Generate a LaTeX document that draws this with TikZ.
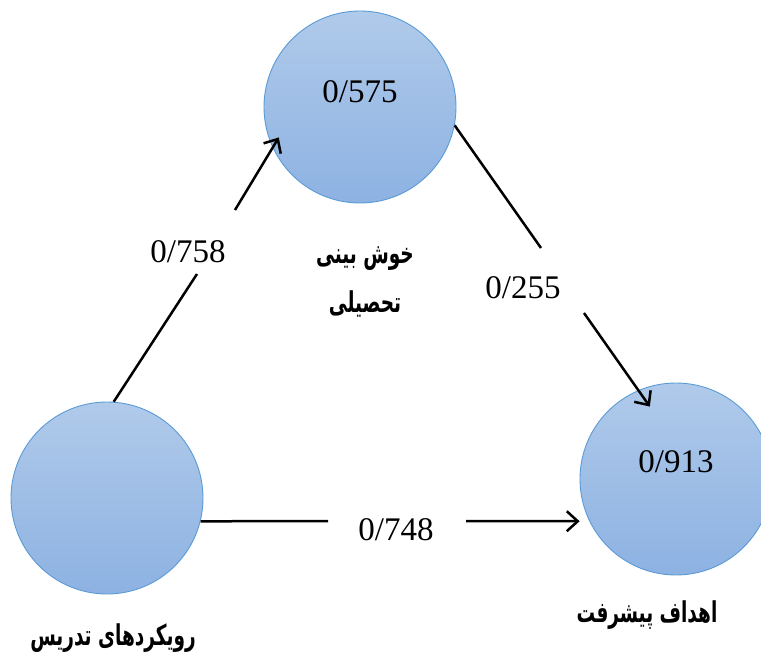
\documentclass[tikz,border=0pt]{standalone}
\usepackage{fontspec}
\setmainfont{Liberation Serif}
\newfontfamily\arabicfont[Script=Arabic]{DejaVu Sans}
\TeXXeTstate=1
\usetikzlibrary{arrows.meta}
\definecolor{ctop}{RGB}{176,202,234}
\definecolor{cbot}{RGB}{141,178,226}
\definecolor{cedge}{RGB}{91,155,213}
\newcommand{\tallfa}[1]{\scalebox{1}[1.55]{\beginR #1\endR}}
\tikzset{
  bubble/.style={circle, minimum size=192pt, inner sep=0pt, top color=ctop, bottom color=cbot, draw=cedge, line width=0.9pt},
  num/.style={font=\fontsize{33}{36}\selectfont, inner sep=0pt},
  fa/.style={font=\arabicfont\bfseries\fontsize{18.5}{22}\selectfont, inner sep=0pt},
  conn/.style={line width=2.5pt, black},
  arr/.style={conn, -{Straight Barb[length=11pt,width=20pt,line width=2.5pt]}}
}
\begin{document}
\begin{tikzpicture}[x=1pt,y=-1pt]
\useasboundingbox (0,0) rectangle (761,652);
\fill[white] (0,0) rectangle (761,652);
\node[bubble] (T) at (360,107) {};
\node[bubble] (L) at (107,498) {};
\node[bubble] (R) at (676,479) {};
\node[num] (vT) at (360,92) {0/575};
\node[num] (vR) at (676,462) {0/913};
\node[num] (e1) at (188,252) {0/758};
\node[num] (e2) at (523,288) {0/255};
\node[num] (e3) at (396,530) {0/748};
\node[fa] (tT1) at (365,259) {\tallfa{خوش بینی}};
\node[fa] (tT2) at (365,304) {\tallfa{تحصیلی}};
\node[fa] (tR) at (647,615) {\tallfa{اهداف پیشرفت}};
\node[fa] (tL) at (113,638) {\tallfa{رویکردهای تدریس}};
\coordinate (g1a) at (197,274);
\coordinate (g1b) at (235,210);
\coordinate (g2a) at (541,248);
\coordinate (g2b) at (584,313);
\coordinate (g3a) at (328,521);
\coordinate (g3b) at (466,521);
\draw[conn] (L.86) -- (g1a);
\draw[arr, shorten >=-12pt] (g1b) -- (T.205.6);
\draw[conn] (T.349) -- (g2a);
\draw[arr, shorten >=-20pt] (g2b) -- (R.113.7);
\draw[conn] (L.346) -- (g3a);
\draw[arr, shorten >=9.7pt] (g3b) -- (R.206);
\end{tikzpicture}
\end{document}
